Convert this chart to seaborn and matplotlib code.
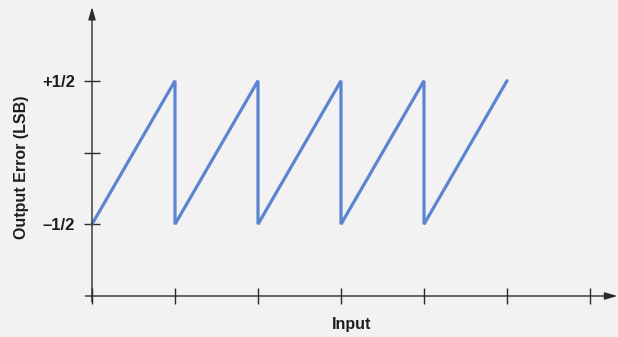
import matplotlib
matplotlib.use("Agg")
import matplotlib.pyplot as plt
import seaborn as sns
import pandas as pd

# Quantization error sawtooth: input steps vs. output error in LSB
input_steps = [0, 1, 1, 2, 2, 3, 3, 4, 4, 5]
error_lsb = [-0.5, 0.5, -0.5, 0.5, -0.5, 0.5, -0.5, 0.5, -0.5, 0.5]
x_ticks = [0, 1, 2, 3, 4, 5, 6]
y_ticks = [-0.5, 0, 0.5]
y_tick_labels = ["\u20131/2", "", "+1/2"]

sns.set_theme(style="white")
plt.rcParams["font.family"] = ["Liberation Sans Narrow", "Liberation Sans", "DejaVu Sans"]

bg = "#f2f2f2"
axis_color = "#2b2b2b"
line_color = "#5b84d1"
text_color = "#1e1e1e"

W, H = 618, 337
fig = plt.figure(figsize=(W / 100, H / 100), dpi=100, facecolor=bg)

x0_px, unit_px = 92, 83.0
xmin, xmax = -0.08, 6.33
y_top_px, y_bot_px = 7, 296
ymin, ymax = -1.0, (152 - y_top_px) / 143.0
ax = fig.add_axes([
    (x0_px + xmin * unit_px) / W,
    (H - y_bot_px) / H,
    (xmax - xmin) * unit_px / W,
    (y_bot_px - y_top_px) / H,
])
ax.set_facecolor(bg)
ax.set_xlim(xmin, xmax)
ax.set_ylim(ymin, ymax)

df = pd.DataFrame({"Input": input_steps, "Error": error_lsb})
sns.lineplot(data=df, x="Input", y="Error", sort=False, estimator=None,
             color=line_color, linewidth=2.3, ax=ax, solid_joinstyle="miter")

ax.spines["left"].set_position(("data", 0))
for s in ["top", "right", "left", "bottom"]:
    ax.spines[s].set_visible(False)

# axis lines with arrow heads
arrow = dict(arrowstyle="-|>,head_length=0.75,head_width=0.22",
             color=axis_color, lw=1.0, mutation_scale=10,
             shrinkA=0, shrinkB=0)
ax.annotate("", xy=(0, ymax), xytext=(0, ymin - 0.04), arrowprops=arrow,
            annotation_clip=False)
ax.annotate("", xy=(xmax, ymin), xytext=(xmin, ymin), arrowprops=arrow,
            annotation_clip=False)

ax.set_xticks(x_ticks)
ax.set_xticklabels([])
ax.set_yticks(y_ticks)
ax.set_yticklabels(y_tick_labels)
for lab in ax.get_yticklabels():
    lab.set_fontsize(12)
    lab.set_fontweight("bold")
    lab.set_color(text_color)
ax.tick_params(axis="both", direction="inout", length=12, width=1.0,
               color=axis_color, left=True, bottom=True)
ax.tick_params(axis="y", pad=6)

ax.set_xlabel("")
ax.set_ylabel("")
fig.text(352 / W, 1 - 325 / H, "Input", ha="center", va="center",
         fontsize=11.5, fontweight="bold", color=text_color)
fig.text(22 / W, 1 - 167 / H, "Output Error (LSB)", ha="center", va="center",
         rotation=90, fontsize=11.5, fontweight="bold", color=text_color)

fig.savefig("out.png", dpi=100, facecolor=bg)
